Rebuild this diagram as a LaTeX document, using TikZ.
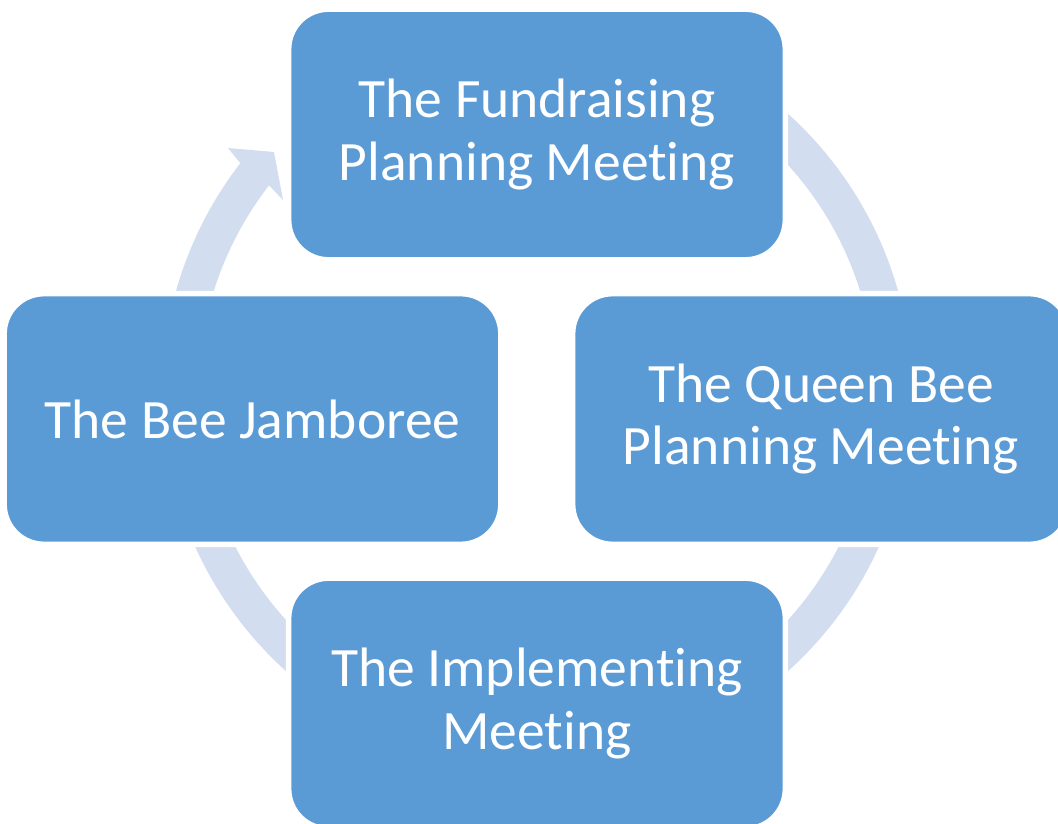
\documentclass[tikz,border=0pt]{standalone}
\usepackage{fontspec}
\setmainfont[Ligatures=NoCommon]{Carlito}
\usepackage{xcolor}
\usetikzlibrary{shapes.geometric, arrows}
\definecolor{stageblue}{HTML}{5B9BD5}
\definecolor{ringblue}{HTML}{D2DEEF}
\tikzstyle{stage} = [rectangle, rounded corners=1cm, 
minimum width=12.42cm, 
minimum height=6.27cm,
text centered, 
align=center,
text=white,
font=\fontsize{39.5}{44.5}\selectfont,
draw=white, 
line width=4pt,
outer sep=0pt,
fill=stageblue]
\tikzstyle{ring} = [fill=ringblue, draw=none]

\begin{document}
\begin{tikzpicture}[node distance=7.1125cm]
		\useasboundingbox (0,0) rectangle (26.45,20.575);
		
		\coordinate (hub) at (13.425,10.7625);
		
		% continuous arrow behind the stages
		\fill [ring] ([shift={(80:9.375)}]hub) arc[start angle=80, end angle=-217.7, radius=9.375]
			-- ([shift={(141.65:9.85)}]hub)
			-- ([shift={(137.56:8.91)}]hub)
			-- ([shift={(142.84:7.9675)}]hub)
			-- ([shift={(142.3:8.4675)}]hub)
			arc[start angle=-217.7, end angle=80, radius=8.4675] -- cycle;
		
		\node (fund) [stage] at (13.425,17.2125) {The Fundraising\\Planning Meeting};
		
		\node (queen) [stage, below of=fund, xshift=7.1cm] {The Queen Bee\\Planning Meeting};
		
		\node (impl) [stage, below of=queen, xshift=-7.1cm] {The Implementing\\Meeting};
		
		\node (jamb) [stage, left of=queen, xshift=-7.1cm] {The Bee Jamboree};
		
	\end{tikzpicture}
\end{document}
